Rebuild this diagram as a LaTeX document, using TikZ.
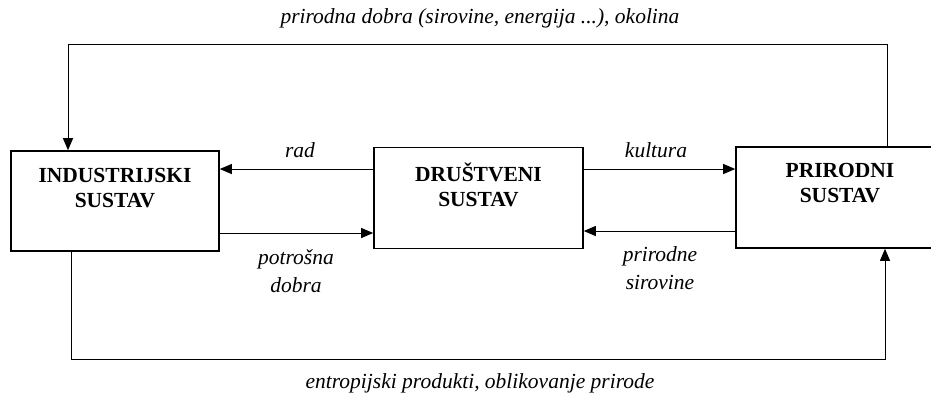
\documentclass[tikz,border=0pt]{standalone}
\usepackage{fontspec}
\setmainfont{Liberation Serif}
\usetikzlibrary{arrows.meta}
\begin{document}
\begin{tikzpicture}[x=1pt,y=-1pt,
  box/.style={draw=black,line width=1.6pt,minimum width=208pt,minimum height=100pt,inner sep=0pt},
  boxtext/.style={font=\fontsize{21.5}{25}\selectfont\bfseries,align=center,inner sep=0pt},
  lbl/.style={font=\fontsize{21.5}{28}\selectfont\itshape,align=center,inner sep=0pt},
  arr/.style={line width=1pt,-{Triangle[length=12pt,width=10pt]}},
  ln/.style={line width=1pt}]
\clip (0,0) rectangle (931,400);
\fill[white] (0,0) rectangle (931,400);
% boxes
\node[box] (ind) at (115,201) {};
\node[box,minimum width=209pt,minimum height=101pt] (dru) at (478.5,198) {};
\node[box,minimum width=209pt,minimum height=101pt] (pri) at (840.5,197.5) {};
\node[boxtext] (indt) at (115,188) {INDUSTRIJSKI\\SUSTAV};
\node[boxtext] (drut) at (478.5,185) {DRUŠTVENI\\SUSTAV};
\node[boxtext] (prit) at (840,183.5) {PRIRODNI\\SUSTAV};
% helper coordinates
\coordinate (yr) at (0,169);
\coordinate (yp) at (0,233);
\coordinate (yk) at (0,169);
\coordinate (ys) at (0,231);
\coordinate (ytop) at (0,44);
\coordinate (ybot) at (0,359);
\coordinate (xtl) at (68,0);
\coordinate (xtr) at (887,0);
\coordinate (xbl) at (71,0);
\coordinate (xbr) at (885,0);
% horizontal arrows
\draw[arr] (dru.west |- yr) -- (ind.east |- yr);
\draw[arr] (ind.east |- yp) -- (dru.west |- yp);
\draw[arr] (dru.east |- yk) -- (pri.west |- yk);
\draw[arr] (pri.west |- ys) -- (dru.east |- ys);
% loops
\coordinate (t1) at (xtr |- ytop);
\coordinate (t2) at (xtl |- ytop);
\draw[arr] (pri.north -| xtr) -- (t1) -- (t2) -- (ind.north -| xtl);
\coordinate (b1) at (xbl |- ybot);
\coordinate (b2) at (xbr |- ybot);
\draw[arr] (ind.south -| xbl) -- (b1) -- (b2) -- (pri.south -| xbr);
% labels
\node[lbl] (lrad) at (300,150) {rad};
\node[lbl] (lkul) at (656,150) {kultura};
\node[lbl] (lpot) at (296,271) {potrošna\\dobra};
\node[lbl] (lsir) at (660,268) {prirodne\\sirovine};
\node[lbl] (ltop) at (480,18) {prirodna dobra (sirovine, energija ...), okolina};
\node[lbl] (lbot) at (480,383) {entropijski produkti, oblikovanje prirode};
\end{tikzpicture}
\end{document}
